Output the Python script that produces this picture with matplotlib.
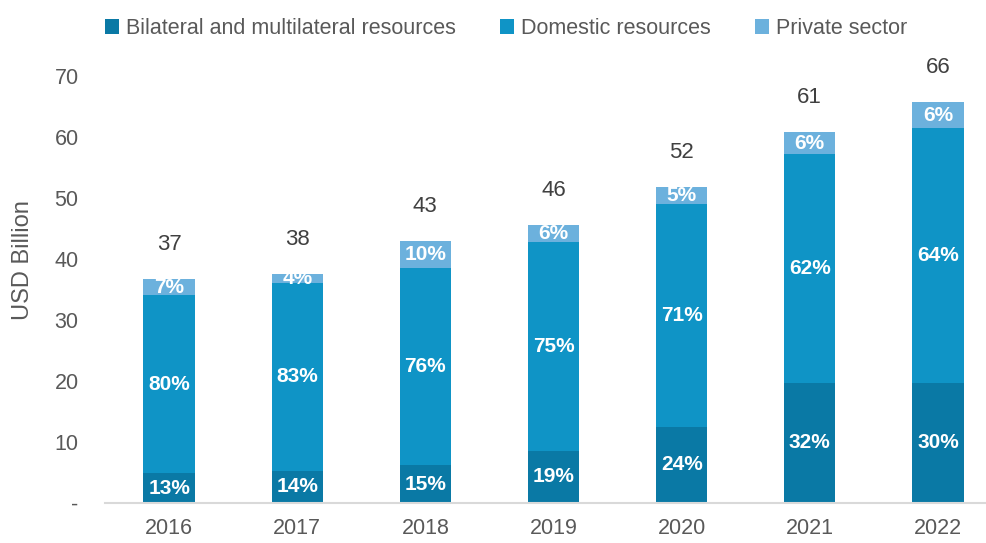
import matplotlib.pyplot as plt
import numpy as np

years = ['2016', '2017', '2018', '2019', '2020', '2021', '2022']
bilateral = [4.9, 5.3, 6.2, 8.6, 12.5, 19.7, 19.7]
domestic = [29.2, 30.8, 32.4, 34.2, 36.5, 37.5, 41.8]
private = [2.6, 1.5, 4.3, 2.8, 2.8, 3.6, 4.2]

bilateral_pct = ['13%', '14%', '15%', '19%', '24%', '32%', '30%']
domestic_pct = ['80%', '83%', '76%', '75%', '71%', '62%', '64%']
private_pct = ['7%', '4%', '10%', '6%', '5%', '6%', '6%']

c_bil = '#0A79A5'
c_dom = '#0F94C6'
c_priv = '#6CB1DD'
grey = '#595959'

plt.rcParams['font.family'] = ['Liberation Sans', 'DejaVu Sans']

fig = plt.figure(figsize=(9.86, 5.43), dpi=100)
ax = fig.add_axes([0.1065, 0.0737, 0.8935, 0.786])

x = np.arange(len(years))
w = 0.4
b1 = ax.bar(x, bilateral, w, color=c_bil, label='Bilateral and multilateral resources')
bottom2 = np.array(bilateral)
b2 = ax.bar(x, domestic, w, bottom=bottom2, color=c_dom, label='Domestic resources')
bottom3 = bottom2 + np.array(domestic)
b3 = ax.bar(x, private, w, bottom=bottom3, color=c_priv, label='Private sector')
totals = bottom3 + np.array(private)

# etiquettes des pourcentages dans les segments
for bars, labels in [(b1, bilateral_pct), (b2, domestic_pct), (b3, private_pct)]:
    for rect, lab in zip(bars, labels):
        cy = rect.get_y() + rect.get_height() / 2
        ax.text(rect.get_x() + rect.get_width() / 2, cy, lab, ha='center', va='center',
                color='white', fontsize=15, fontweight='bold')

# totaux au-dessus des barres
for xi, t in zip(x, totals):
    ax.annotate(f'{t:.0f}', (xi, t), xytext=(0, 25), textcoords='offset points',
                ha='center', va='center', fontsize=16, color='#404040')

ax.set_xlim(-0.5, 6.375)
ax.set_ylim(0, 70)
ax.set_xticks(x)
ax.set_xticklabels(years)
ax.set_yticks(range(0, 71, 10))
ax.set_yticklabels(['-'] + [str(v) for v in range(10, 71, 10)])
ax.tick_params(axis='both', length=0, colors=grey, labelsize=15.5)
ax.tick_params(axis='x', pad=11)
ax.tick_params(axis='y', pad=19)
for s in ['left', 'right', 'top']:
    ax.spines[s].set_visible(False)
ax.spines['bottom'].set_color('#D9D9D9')
ax.spines['bottom'].set_linewidth(1.5)

ax.set_ylabel('USD Billion', fontsize=17, color=grey)
ax.yaxis.set_label_coords(-0.081, 0.57)

ax.legend(loc='center left', bbox_to_anchor=(0.0, 1.112), ncol=3, frameon=False,
          fontsize=15.5, labelcolor=grey, handlelength=0.65, handleheight=0.65,
          handletextpad=0.33, columnspacing=2.05, borderpad=0, borderaxespad=0)

plt.savefig('out.png', dpi=100)
